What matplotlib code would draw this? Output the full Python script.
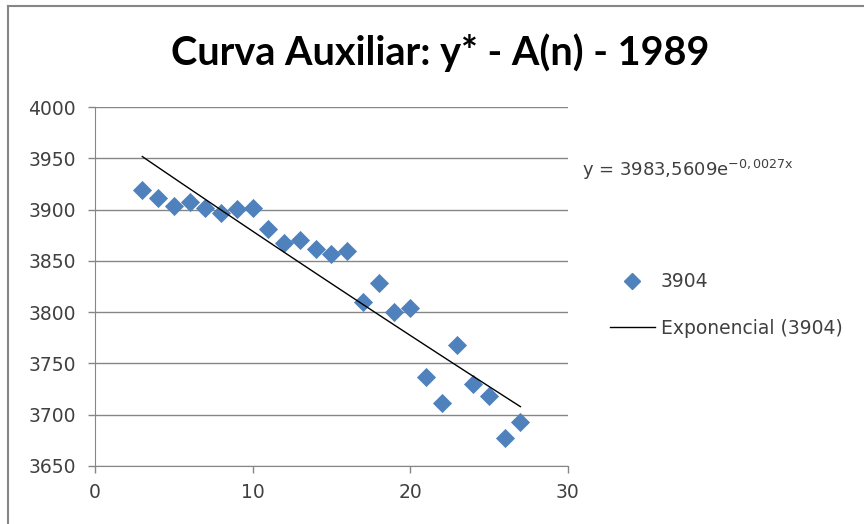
import numpy as np
import matplotlib
matplotlib.use("Agg")
import matplotlib.pyplot as plt
from matplotlib.lines import Line2D

# data
x_vals = [3, 4, 5, 6, 7, 8, 9, 10, 11, 12, 13, 14, 15, 16, 17, 18, 19, 20, 21, 22, 23, 24, 25, 26, 27]
y_vals = [3919, 3911, 3904, 3907, 3902, 3897, 3901, 3902, 3881, 3867, 3870, 3862, 3857, 3860,
          3810, 3828, 3800, 3804, 3737, 3711, 3768, 3730, 3718, 3677, 3693]
series_name = "3904"
trend_name = "Exponencial (3904)"
title = "Curva Auxiliar: y* - A(n) - 1989"
equation = r"y = 3983,5609e$^{-0,0027x}$"
y_ticks = [3650, 3700, 3750, 3800, 3850, 3900, 3950, 4000]
x_ticks = [0, 10, 20, 30]

blue = "#4F81BD"
gray = "#868686"
plt.rcParams['mathtext.default'] = 'regular'

fig = plt.figure(figsize=(8.64, 5.24), dpi=100)
# chart area border (only top and left edges are visible in the crop)
fig.add_artist(Line2D([0.009, 0.009], [0.0, 0.989], transform=fig.transFigure, color=gray, lw=1.5))
fig.add_artist(Line2D([0.009, 1.0], [0.989, 0.989], transform=fig.transFigure, color=gray, lw=1.5))

ax = fig.add_axes([0.110, 0.1107, 0.547, 0.685])

ax.scatter(x_vals, y_vals, marker="D", s=95, color=blue, linewidths=0, zorder=3)

# exponential trend line, fitted on log values
xs = np.array(x_vals, dtype=float)
b, ln_a = np.polyfit(xs, np.log(y_vals), 1)
xt = np.linspace(xs.min(), xs.max(), 100)
ax.plot(xt, np.exp(ln_a) * np.exp(b * xt), color="black", linewidth=1.0, zorder=4)

ax.set_xlim(0, 30)
ax.set_ylim(3650, 4000)
ax.set_xticks(x_ticks)
ax.set_yticks(y_ticks)
ax.yaxis.grid(True, color=gray, linewidth=1.0)
ax.set_axisbelow(True)
for s in ["top", "right"]:
    ax.spines[s].set_visible(False)
for s in ["left", "bottom"]:
    ax.spines[s].set_color(gray)
ax.tick_params(axis="both", colors=gray, labelcolor="#404040", labelsize=13.5, length=5, width=1.0)
ax.tick_params(axis="y", pad=9)
ax.tick_params(axis="x", pad=7)

fig.text(0.510, 0.900, title, ha="center", va="center", fontsize=28.5, fontweight="bold",
         family="Lato", color="#000000")

fig.text(0.674, 0.676, equation, fontsize=13, color="#404040", ha="left", va="center")

handles = [Line2D([], [], marker="D", linestyle="none", color=blue, markersize=8),
           Line2D([], [], color="black", linewidth=1.0)]
fig.legend(handles, [series_name, trend_name], loc="center left", bbox_to_anchor=(0.706, 0.418),
           frameon=False, fontsize=13.5, labelspacing=1.45, handlelength=2.4, handletextpad=0.3,
           borderpad=0, borderaxespad=0, labelcolor="#404040")

fig.savefig("out.png", dpi=100)
